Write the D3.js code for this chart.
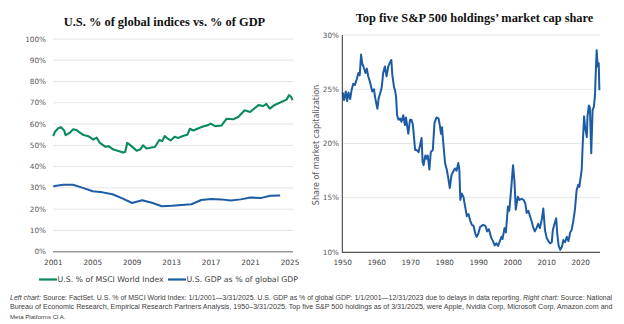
<!DOCTYPE html>
<html>
<head>
<meta charset="utf-8">
<script src="https://cdn.jsdelivr.net/npm/d3@7/dist/d3.min.js"></script>
<style>
  html, body { margin: 0; padding: 0; background: #ffffff; }
  svg { display: block; }
</style>
</head>
<body>
<svg id="chart" width="624" height="324"></svg>
<script>
// ---------- DATA ----------
const leftTitle = "U.S. % of global indices vs. % of GDP";
const rightTitle = "Top five S&P 500 holdings\u2019 market cap share";

const leftYTicks = [0, 10, 20, 30, 40, 50, 60, 70, 80, 90, 100];
const leftXTicks = [2001, 2005, 2009, 2013, 2017, 2021, 2025];

const msciYears = [2001.0, 2001.17, 2001.5, 2001.75, 2002.1, 2002.25, 2002.7, 2003.0, 2003.35, 2003.7, 2004.0, 2004.55, 2005.05, 2005.4, 2005.7, 2006.25, 2006.6, 2007.1, 2007.6, 2008.1, 2008.3, 2008.5, 2008.95, 2009.45, 2009.8, 2010.1, 2010.45, 2010.95, 2011.3, 2011.75, 2012.05, 2012.3, 2012.65, 2012.9, 2013.3, 2013.65, 2014.2, 2014.6, 2014.85, 2015.2, 2015.85, 2016.25, 2016.7, 2016.95, 2017.4, 2018.05, 2018.55, 2019.25, 2019.75, 2020.4, 2020.95, 2021.8, 2022.3, 2022.6, 2022.95, 2023.45, 2023.95, 2024.65, 2024.9, 2025.15, 2025.25];
const msciValues = [54.4, 56.4, 58.0, 58.6, 57.0, 54.8, 56.0, 57.5, 57.2, 56.0, 55.0, 54.3, 52.7, 53.6, 51.3, 49.4, 49.6, 48.0, 47.3, 46.6, 47.0, 51.2, 49.5, 47.5, 48.0, 50.0, 48.5, 49.0, 49.2, 52.5, 52.0, 54.4, 53.0, 52.3, 54.0, 53.5, 54.5, 55.0, 57.8, 57.0, 58.3, 59.0, 59.5, 60.2, 59.0, 59.3, 62.5, 62.3, 63.3, 66.5, 65.7, 68.9, 68.5, 69.5, 67.3, 69.0, 70.0, 71.5, 73.6, 72.6, 71.3];

const gdpYears = [2001, 2002, 2003, 2004, 2005, 2006, 2007, 2008, 2009, 2010, 2011, 2012, 2013, 2014, 2015, 2016, 2017, 2018, 2019, 2020, 2021, 2022, 2023, 2024];
const gdpValues = [30.8, 31.5, 31.5, 30.0, 28.4, 27.9, 27.0, 25.1, 22.9, 24.2, 23.0, 21.4, 21.6, 22.0, 22.3, 24.3, 24.8, 24.6, 24.1, 24.6, 25.5, 25.2, 26.3, 26.4];

const leftLegend = ["U.S. % of MSCI World Index", "U.S. GDP as % of global GDP"];

const rightYTicks = [10, 15, 20, 25, 30];
const rightXTicks = [1950, 1960, 1970, 1980, 1990, 2000, 2010, 2020];
const rightYLabel = "Share of market capitalization";

const top5Years = [1950.0, 1950.4, 1950.9, 1951.3, 1951.7, 1952.2, 1952.6, 1953.1, 1953.6, 1954.1, 1954.6, 1955.0, 1955.2, 1955.4, 1955.8, 1956.1, 1956.7, 1957.1, 1957.5, 1958.0, 1958.7, 1959.2, 1959.5, 1960.2, 1960.6, 1961.0, 1961.5, 1961.9, 1962.4, 1962.9, 1963.4, 1964.1, 1964.3, 1964.6, 1965.1, 1965.4, 1965.7, 1966.0, 1966.4, 1966.9, 1967.3, 1967.8, 1968.3, 1968.6, 1969.3, 1969.8, 1970.2, 1970.6, 1970.8, 1971.3, 1971.8, 1972.3, 1972.8, 1973.2, 1973.5, 1973.8, 1974.3, 1974.6, 1975.0, 1975.5, 1975.9, 1976.5, 1977.0, 1977.6, 1978.2, 1978.6, 1978.9, 1979.2, 1979.6, 1980.1, 1980.6, 1981.0, 1981.5, 1982.0, 1982.5, 1983.0, 1983.5, 1984.0, 1984.3, 1984.6, 1985.0, 1985.5, 1986.0, 1986.5, 1987.0, 1987.5, 1988.0, 1988.5, 1989.0, 1989.4, 1989.9, 1990.4, 1991.3, 1992.0, 1992.5, 1993.0, 1993.7, 1994.2, 1994.7, 1995.2, 1995.7, 1996.1, 1996.7, 1997.0, 1997.6, 1998.0, 1998.6, 1999.0, 1999.6, 2000.1, 2000.5, 2000.9, 2001.5, 2002.0, 2002.6, 2003.2, 2003.7, 2004.1, 2004.6, 2005.1, 2005.6, 2006.0, 2006.5, 2007.0, 2007.5, 2008.0, 2008.5, 2009.0, 2009.5, 2010.0, 2010.5, 2011.0, 2011.5, 2011.8, 2012.3, 2012.8, 2013.1, 2013.5, 2014.0, 2014.5, 2014.9, 2015.4, 2015.9, 2016.4, 2016.9, 2017.3, 2017.8, 2018.3, 2018.8, 2019.3, 2019.6, 2020.3, 2020.6, 2021.0, 2021.3, 2021.8, 2022.0, 2022.4, 2022.7, 2023.1, 2023.5, 2023.9, 2024.2, 2024.5, 2024.7, 2025.0, 2025.3, 2025.5];
const top5Values = [24.7, 24.0, 24.8, 23.9, 24.7, 24.1, 24.9, 25.5, 25.4, 25.9, 26.5, 26.3, 27.2, 28.2, 27.3, 27.1, 26.5, 26.9, 26.2, 25.7, 24.8, 25.0, 24.3, 23.2, 24.2, 24.6, 25.2, 26.5, 27.1, 26.2, 27.1, 27.6, 27.7, 26.3, 25.2, 24.9, 24.3, 22.6, 22.2, 22.3, 22.0, 22.6, 21.7, 22.4, 20.9, 22.2, 22.2, 21.8, 21.2, 19.4, 19.4, 19.2, 19.9, 20.5, 18.3, 18.0, 18.9, 18.6, 18.9, 17.6, 19.2, 19.4, 21.9, 22.4, 22.3, 21.6, 20.9, 21.5, 20.0, 18.2, 17.6, 16.9, 15.9, 17.1, 17.4, 17.7, 17.5, 18.2, 17.6, 14.8, 15.4, 15.1, 14.2, 13.3, 13.5, 12.9, 12.5, 12.4, 11.7, 11.4, 11.7, 12.3, 12.5, 12.4, 11.9, 12.1, 11.3, 11.0, 10.6, 10.8, 10.55, 10.9, 11.4, 11.2, 12.2, 11.8, 14.2, 13.8, 16.0, 18.0, 16.6, 13.9, 15.1, 14.8, 14.9, 14.8, 14.5, 13.6, 13.8, 13.3, 12.8, 12.3, 11.9, 12.2, 12.6, 12.2, 12.9, 14.0, 12.0, 11.3, 11.0, 10.8, 10.9, 12.0, 12.6, 13.1, 11.7, 10.6, 10.2, 10.5, 11.1, 10.9, 11.4, 11.0, 11.8, 12.0, 12.8, 13.9, 15.7, 16.2, 16.0, 17.6, 20.0, 22.5, 21.5, 20.6, 22.5, 23.5, 23.3, 19.1, 23.1, 23.4, 24.5, 27.1, 28.6, 27.1, 27.4, 24.9];

const footLines = [
  [["Left chart:", true], [" Source: FactSet. U.S. % of MSCI World Index: 1/1/2001\u20143/31/2025. U.S. GDP as % of global GDP: 1/1/2001\u201412/31/2023 due to delays in data reporting. ", false], ["Right chart:", true], [" Source: National", false]],
  [["Bureau of Economic Research, Empirical Research Partners Analysis, 1950\u20133/31/2025. Top five S&P 500 holdings as of 3/31/2025, were Apple, Nvidia Corp, Microsoft Corp, Amazon.com and", false]],
  [["Meta Platforms Cl A.", false]]
];

// ---------- STYLE ----------
const GREEN = "#0a8a5e";
const BLUE = "#1c5ca4";
const GRID = "#e6e6e6";
const LABEL = "#595959";
const sans = "'DejaVu Sans', sans-serif";
const serif = "'Liberation Serif', 'DejaVu Serif', serif";

const svg = d3.select("#chart");

// ---------- LEFT CHART ----------
const lx = d3.scaleLinear().domain([2001, 2025]).range([53.3, 290]);
const ly = d3.scaleLinear().domain([0, 100]).range([251.7, 39]);
const L = svg.append("g");

L.append("text").attr("x", 164.5).attr("y", 26).attr("text-anchor", "middle")
  .attr("font-family", serif).attr("font-weight", "bold").attr("font-size", 12.4)
  .attr("fill", "#111").text(leftTitle);

// grid
L.selectAll(".lg").data(leftYTicks.filter(d => d > 0)).join("line")
  .attr("x1", 53).attr("x2", 293).attr("y1", d => ly(d)).attr("y2", d => ly(d))
  .attr("stroke", GRID).attr("stroke-width", 1);

// y labels
L.selectAll(".lyl").data(leftYTicks).join("text")
  .attr("x", 46).attr("y", d => ly(d)).attr("dy", "0.35em").attr("text-anchor", "end")
  .attr("font-family", sans).attr("font-size", 7.3).attr("fill", LABEL)
  .text(d => d + "%");

// baseline
L.append("line").attr("x1", 53).attr("x2", 293).attr("y1", ly(0)).attr("y2", ly(0))
  .attr("stroke", "#9a9a9a").attr("stroke-width", 1.5);

// x labels
L.selectAll(".lxl").data(leftXTicks).join("text")
  .attr("x", d => lx(d)).attr("y", 262.5).attr("dy", "0.35em").attr("text-anchor", "middle")
  .attr("font-family", sans).attr("font-size", 7.3).attr("fill", "#404040")
  .text(d => d);

const msci = msciYears.map((y, i) => [y, msciValues[i]]);
const gdp = gdpYears.map((y, i) => [y, gdpValues[i]]);
const lline = d3.line().x(d => lx(d[0])).y(d => ly(d[1]));

L.append("path").attr("d", lline(gdp)).attr("fill", "none")
  .attr("stroke", BLUE).attr("stroke-width", 2).attr("stroke-linejoin", "round");
L.append("path").attr("d", lline(msci)).attr("fill", "none")
  .attr("stroke", GREEN).attr("stroke-width", 2.1).attr("stroke-linejoin", "round");

// legend
const legY = 279.5;
const legItems = [
  { x: 39, w: 18, color: GREEN, text: leftLegend[0] },
  { x: 168, w: 18, color: BLUE, text: leftLegend[1] }
];
legItems.forEach(it => {
  L.append("line").attr("x1", it.x).attr("x2", it.x + it.w).attr("y1", legY).attr("y2", legY)
    .attr("stroke", it.color).attr("stroke-width", 2.2);
  L.append("text").attr("x", it.x + it.w + 0.5).attr("y", legY).attr("dy", "0.35em")
    .attr("font-family", sans).attr("font-size", 7.8).attr("fill", "#404040").text(it.text);
});

// ---------- RIGHT CHART ----------
const rx = d3.scaleLinear().domain([1950, 2020]).range([342.7, 580.7]);
const ry = d3.scaleLinear().domain([10, 30]).range([252, 35]);
const R = svg.append("g");

R.append("text").attr("x", 474.5).attr("y", 22).attr("text-anchor", "middle")
  .attr("font-family", serif).attr("font-weight", "bold").attr("font-size", 12.4)
  .attr("fill", "#111").text(rightTitle);

R.selectAll(".rg").data(rightYTicks.filter(d => d > 10)).join("line")
  .attr("x1", 342.5).attr("x2", 600).attr("y1", d => ry(d)).attr("y2", d => ry(d))
  .attr("stroke", GRID).attr("stroke-width", 1);

R.selectAll(".ryl").data(rightYTicks).join("text")
  .attr("x", 339).attr("y", d => ry(d)).attr("dy", "0.35em").attr("text-anchor", "end")
  .attr("font-family", sans).attr("font-size", 7.3).attr("fill", LABEL)
  .text(d => d + "%");

R.selectAll(".rxl").data(rightXTicks).join("text")
  .attr("x", d => rx(d)).attr("y", 262.5).attr("dy", "0.35em").attr("text-anchor", "middle")
  .attr("font-family", sans).attr("font-size", 7.3).attr("fill", "#404040")
  .text(d => d);

R.append("text").attr("transform", "translate(316,145) rotate(-90)")
  .attr("text-anchor", "middle").attr("dy", "0.35em")
  .attr("font-family", sans).attr("font-size", 8).attr("fill", LABEL)
  .text(rightYLabel);

const top5 = top5Years.map((y, i) => [y, top5Values[i]]);
const rline = d3.line().x(d => rx(d[0])).y(d => ry(d[1]));
R.append("path").attr("d", rline(top5)).attr("fill", "none")
  .attr("stroke", BLUE).attr("stroke-width", 2).attr("stroke-linejoin", "round");

// axes lines
R.append("line").attr("x1", 342.3).attr("x2", 342.3).attr("y1", 35).attr("y2", 252.5)
  .attr("stroke", "#333").attr("stroke-width", 1);
R.append("line").attr("x1", 342).attr("x2", 600).attr("y1", 252.3).attr("y2", 252.3)
  .attr("stroke", "#555").attr("stroke-width", 1.3);

// ---------- FOOTNOTE ----------
const footY = [299.5, 309, 318.5];
footLines.forEach((parts, i) => {
  const t = svg.append("text").attr("x", 10).attr("y", footY[i])
    .attr("font-family", "'Liberation Sans', Arial, sans-serif").attr("font-size", 6.1)
    .attr("fill", "#404040");
  parts.forEach(p => {
    t.append("tspan").attr("font-style", p[1] ? "italic" : "normal").text(p[0]);
  });
  if (i < 2) {
    const w = t.node().getComputedTextLength();
    const target = 603;
    if (w > 0) t.attr("font-size", 6.1 * target / w);
  }
});
</script>
</body>
</html>
